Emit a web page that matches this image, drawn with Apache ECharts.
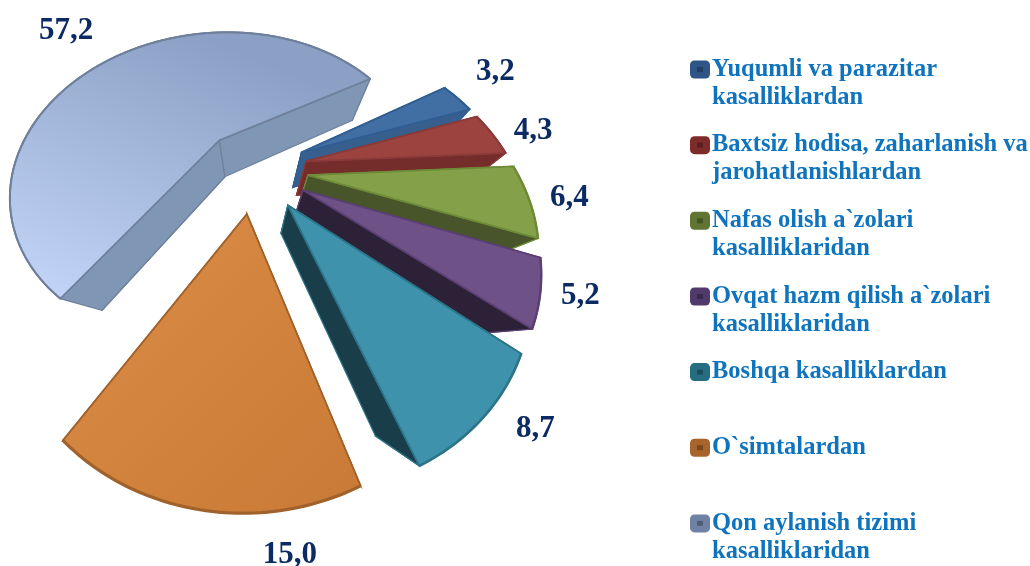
<!DOCTYPE html>
<html><head><meta charset="utf-8">
<style>html,body{margin:0;padding:0;background:#fff}#c{width:1030px;height:566px}</style>
<script src="https://cdn.jsdelivr.net/npm/echarts@6/dist/echarts.min.js"></script>
</head><body><div id="c"></div>
<script>
const categories = [
  "Yuqumli va parazitar\nkasalliklardan",
  "Baxtsiz hodisa, zaharlanish va\njarohatlanishlardan",
  "Nafas olish a`zolari\nkasalliklaridan",
  "Ovqat hazm qilish a`zolari\nkasalliklaridan",
  "Boshqa kasalliklardan",
  "O`simtalardan",
  "Qon aylanish tizimi\nkasalliklaridan"
];
const values = [3.2, 4.3, 6.4, 5.2, 8.7, 15.0, 57.2];
const legendColors = ["#2F5587", "#7E2C2A", "#5F7531", "#4F3A6B", "#256D80", "#A8642A", "#6F82A6"];
const topColors = ["#426FA3", "#9C4340", "#84A14A", "#6E5287", "#3E92AB", null, null];
const wallColors = ["#365F8E", "#752D2B", "#48552A", "#2D2137", "#1A3D4A", "#A0622B", "#8096B5"];
const edgeColors = ["#2F5E92", "#8A3A38", "#6D8A37", "#5A3F75", "#2C7488", "#A0622A", "#6F809C"];
const rimWidths = [2, 2, 2.4, 2.4, 2.6, 3.2, 2];
const labelShift = [[38,-26],[41,-3],[40,-2],[40,3],[51,13],[90,45],[-51,-25]];
const view = {cx:254, cy:169, A:207.5, B:160, p:0.33, explode:0.26, h:0.22, vx:252, vy:352, start:59.9};

const total = values.reduce((a,b)=>a+b,0);
const rad = d => d*Math.PI/180;
function project(x,v){const w=1-view.p*v;return {x:view.cx+view.A*x/w,y:view.cy+view.B*v/w,w};}
function lower(P){const k=view.h/(P.w+view.h);return [P.x+k*(view.vx-P.x),P.y+k*(view.vy-P.y)];}
function fills(i){
  if(i===5) return new echarts.graphic.LinearGradient(0,0,1,1,[{offset:0,color:"#DC8E47"},{offset:1,color:"#C87A36"}]);
  if(i===6) return new echarts.graphic.LinearGradient(0.2,1,0.5,0,[{offset:0,color:"#C0D3F6"},{offset:1,color:"#8BA0C4"}]);
  return topColors[i];
}
function renderSlice(params,api){
  const i=params.seriesIndex===0?6:params.seriesIndex-1;
  let before=0; for(let j=0;j<i;j++) before+=values[j];
  const a0=view.start+before/total*360, a1=a0+api.value(0)/total*360, am=(a0+a1)/2;
  const ou=Math.sin(rad(am))*view.explode, ov=-Math.cos(rad(am))*view.explode;
  const apex=project(ou,ov), rim=[], n=Math.max(8,Math.round(a1-a0));
  for(let s=0;s<=n;s++){const t=rad(a0+(a1-a0)*s/n);rim.push(project(ou+Math.sin(t),ov-Math.cos(t)));}
  const xy=P=>[P.x,P.y];
  const rimPts=rim.map(xy), apexB=lower(apex), rimB=rim.map(lower);
  const wall={fill:wallColors[i],stroke:edgeColors[i],lineWidth:1.2};
  const mk=pts=>({type:'polygon',shape:{points:pts},style:wall,silent:true});
  const children=[
    mk([[apex.x,apex.y],apexB].concat(rimB).concat(rimPts.slice().reverse())),
    mk([[apex.x,apex.y],apexB,rimB[0],rimPts[0]]),
    mk([[apex.x,apex.y],apexB,rimB[n],rimPts[n]]),
    {type:'polygon',shape:{points:[[apex.x,apex.y]].concat(rimPts)},style:{fill:fills(i),stroke:edgeColors[i],lineWidth:1.8,lineJoin:'round'},silent:true},
    {type:'polyline',shape:{points:rimPts},style:{fill:null,stroke:edgeColors[i],lineWidth:rimWidths[i]},silent:true}
  ];
  const mid=project(ou+Math.sin(rad(am)),ov-Math.cos(rad(am)));
  children.push({type:'text',silent:true,style:{
    text:values[i].toFixed(1).replace('.',','),
    x:mid.x+labelShift[i][0],y:mid.y+labelShift[i][1],
    align:'center',verticalAlign:'middle',
    font:'bold 31px "Liberation Serif"',fill:'#0C2A63'}});
  return {type:'group',children};
}
const order=[6,0,1,2,3,4,5];
const series=order.map(i=>({
  type:'custom',name:categories[i],coordinateSystem:'none',silent:true,animation:false,
  itemStyle:{color:legendColors[i]},renderItem:renderSlice,data:[[values[i]]]
}));
const chart=echarts.init(document.getElementById('c'),null,{renderer:'canvas'});
chart.setOption({
  backgroundColor:'#fff',animation:false,
  legend:[{
    orient:'vertical',left:690,top:27.5,height:560,padding:0,itemWidth:20,itemHeight:18,itemGap:-8.35,icon:'roundRect',selectedMode:false,
    data:categories.map((c,i)=>({name:c,itemStyle:{color:legendColors[i]}})),
    formatter:n=>'\n'+n+(n.indexOf('\n')<0?'\n ':''),
    textStyle:{fontFamily:'Liberation Serif',fontWeight:'bold',fontSize:24.5,lineHeight:28,color:'#0F74BD',padding:[0,0,0,-3]}
  },{
    orient:'vertical',left:697,top:67,height:498,padding:0,itemWidth:6,itemHeight:5,itemGap:70.65,icon:'rect',selectedMode:false,
    data:categories.map(c=>({name:c,itemStyle:{color:'rgba(0,0,0,0.28)'}})),
    formatter:()=>'',
    textStyle:{fontSize:1,lineHeight:1}
  }],
  series
});
</script></body></html>
